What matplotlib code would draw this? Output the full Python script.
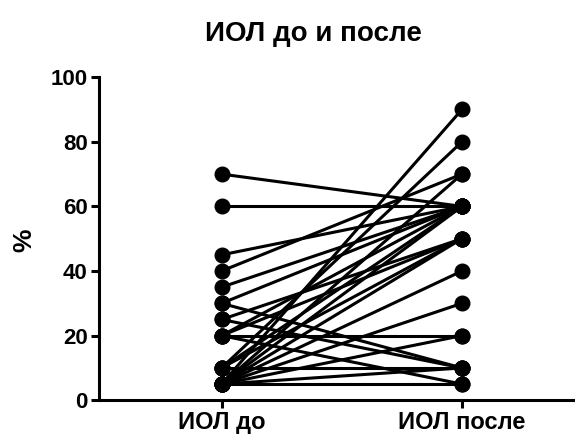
import matplotlib
matplotlib.use("Agg")
import matplotlib.pyplot as plt

categories = ["ИОЛ до", "ИОЛ после"]
before = [70, 60, 45, 40, 35, 30, 30, 25, 25, 20, 20, 20, 20, 10, 10, 10, 10,
          5, 5, 5, 5, 5, 5, 5, 5, 5]
after = [60, 60, 60, 70, 60, 10, 60, 10, 50, 20, 5, 60, 50, 80, 60, 50, 10,
         90, 70, 60, 50, 40, 30, 20, 10, 5]
yticks = [0, 20, 40, 60, 80, 100]

plt.rcParams['font.family'] = ['Liberation Sans', 'DejaVu Sans']
plt.rcParams['font.weight'] = 'bold'

fig = plt.figure(figsize=(5.75, 4.36), dpi=100)
ax = fig.add_axes([0.172, 0.082, 0.828, 0.741])

for b, a in zip(before, after):
    ax.plot([0, 1], [b, a], color='black', lw=2.2, marker='o', ms=10.5,
            solid_capstyle='round', clip_on=False, zorder=3)

ax.set_xlim(-0.51, 1.47)
ax.set_ylim(0, 100)
ax.set_xticks([0, 1])
ax.set_xticklabels(categories, fontsize=17, fontweight='bold')
ax.set_yticks(yticks)
ax.set_yticklabels([str(t) for t in yticks], fontsize=16, fontweight='bold')
ax.tick_params(axis='both', width=2.2, length=6, color='black', pad=2)
for s in ['top', 'right']:
    ax.spines[s].set_visible(False)
for s in ['left', 'bottom']:
    ax.spines[s].set_linewidth(2.2)
fig.text(0.043, 0.45, '%', rotation=90, ha='center', va='center',
         fontsize=19, fontweight='bold')
fig.text(0.545, 0.922, 'ИОЛ до и после', ha='center', va='center',
         fontsize=20, fontweight='bold')

fig.savefig('out.png', dpi=100, facecolor='white')
